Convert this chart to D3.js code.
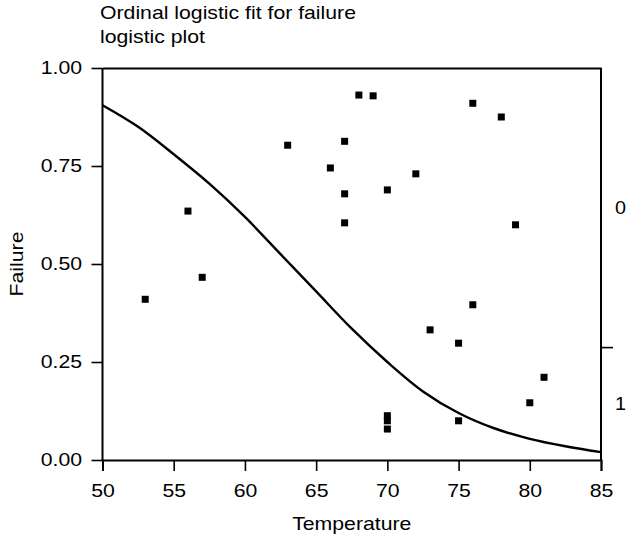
<!DOCTYPE html>
<html><head><meta charset="utf-8">
<script src="https://cdn.jsdelivr.net/npm/d3@7"></script>
<style>html,body{margin:0;padding:0;background:#fff;}svg{display:block;}</style>
</head><body>
<svg id="c" width="629" height="536"></svg>
<script>
// ---- data ----
const titleLines = ["Ordinal logistic fit for failure", "logistic plot"];
const xTicks = [50, 55, 60, 65, 70, 75, 80, 85];
const yTicks = [0, 0.25, 0.5, 0.75, 1];
const temperature = [53,56,57,63,66,67,67,67,68,69,70,70,70,70,72,73,75,75,76,76,78,79,80,81];
const failureJitter = [0.41,0.635,0.466,0.803,0.745,0.813,0.679,0.605,0.931,0.929,0.689,0.113,0.100,0.079,0.73,0.332,0.298,0.100,0.91,0.396,0.875,0.600,0.146,0.211];
const curveTemp = [50,52.5,55,57.5,60,62.5,65,67.5,70,72.5,75,77.5,80,82.5,85];
const curveProb = [0.905,0.85,0.78,0.705,0.62,0.525,0.43,0.335,0.25,0.175,0.12,0.081,0.054,0.035,0.02];
const levelLabels = ["0", "1"];
const levelBoundaries = [1, 0.288, 0];

// ---- layout ----
const svg = d3.select("#c");
const font = "'Liberation Sans', Arial, Helvetica, sans-serif";
const FS = 18, SX = 1.18;
const x = d3.scaleLinear().domain([50, 85]).range([102.5, 601]);
const y = d3.scaleLinear().domain([0, 1]).range([460, 68]);

function wideText(sel, tx, ty, anchor, rot, sx) {
  return sel.append("text")
    .attr("transform", `translate(${tx},${ty})${rot ? " rotate(" + rot + ")" : ""} scale(${sx || SX},1)`)
    .attr("text-anchor", anchor).attr("font-family", font).attr("font-size", FS).attr("fill", "#000");
}

titleLines.forEach((t, i) => wideText(svg, 100, 18.5 + i * 24.5, "start").text(t));

// left axis
const gL = svg.append("g").attr("transform", `translate(${x(50)},0)`)
  .call(d3.axisLeft(y).tickValues(yTicks).tickFormat(d3.format(".2f")).tickSize(11).tickPadding(9.5));
// bottom axis
const gB = svg.append("g").attr("transform", `translate(0,${y(0)})`)
  .call(d3.axisBottom(x).tickValues(xTicks).tickFormat(d3.format("d")).tickSize(11).tickPadding(13));
// top border line
const gT = svg.append("g").attr("transform", `translate(0,${y(1)})`)
  .call(d3.axisTop(x).tickValues([]).tickSizeOuter(0));
// right axis with level boundary tick
const gR = svg.append("g").attr("transform", `translate(${x(85)},0)`)
  .call(d3.axisRight(y).tickValues([levelBoundaries[1]]).tickFormat("").tickSize(12).tickSizeOuter(0));

[gL, gB, gT, gR].forEach(g => {
  g.selectAll("path.domain").attr("stroke", "#000").attr("stroke-width", 2);
  g.selectAll(".tick line").attr("stroke", "#000").attr("stroke-width", 1.6);
  g.selectAll(".tick text").attr("font-family", font).attr("font-size", FS).attr("fill", "#000")
    .each(function() {
      const t = d3.select(this);
      t.attr("x", (+t.attr("x") || 0) / SX).attr("transform", `scale(${SX},1)`);
    });
});
gL.select("path.domain").attr("d", `M0,${y(1)}V${y(0)}`);
gR.select("path.domain").attr("d", `M0,${y(1)}V${y(0)}`);

// right level labels
levelLabels.forEach((lab, i) => {
  wideText(svg, 615, y((levelBoundaries[i] + levelBoundaries[i + 1]) / 2), "start", 0, 1.1)
    .attr("dy", "0.35em").text(lab);
});

// axis titles
wideText(svg, (x(50) + x(85)) / 2, 530, "middle").text("Temperature");
wideText(svg, 23, y(0.5), "middle", -90).text("Failure");

// curve
const line = d3.line().x((d, i) => x(curveTemp[i])).y(d => y(d)).curve(d3.curveCatmullRom);
svg.append("path").datum(curveProb).attr("d", line)
  .attr("fill", "none").attr("stroke", "#000").attr("stroke-width", 2.4);

// points
const s = 7;
svg.selectAll("rect.pt").data(temperature).join("rect")
  .attr("x", d => x(d) - s / 2)
  .attr("y", (d, i) => y(failureJitter[i]) - s / 2)
  .attr("width", s).attr("height", s).attr("fill", "#000");
</script>
</body></html>
